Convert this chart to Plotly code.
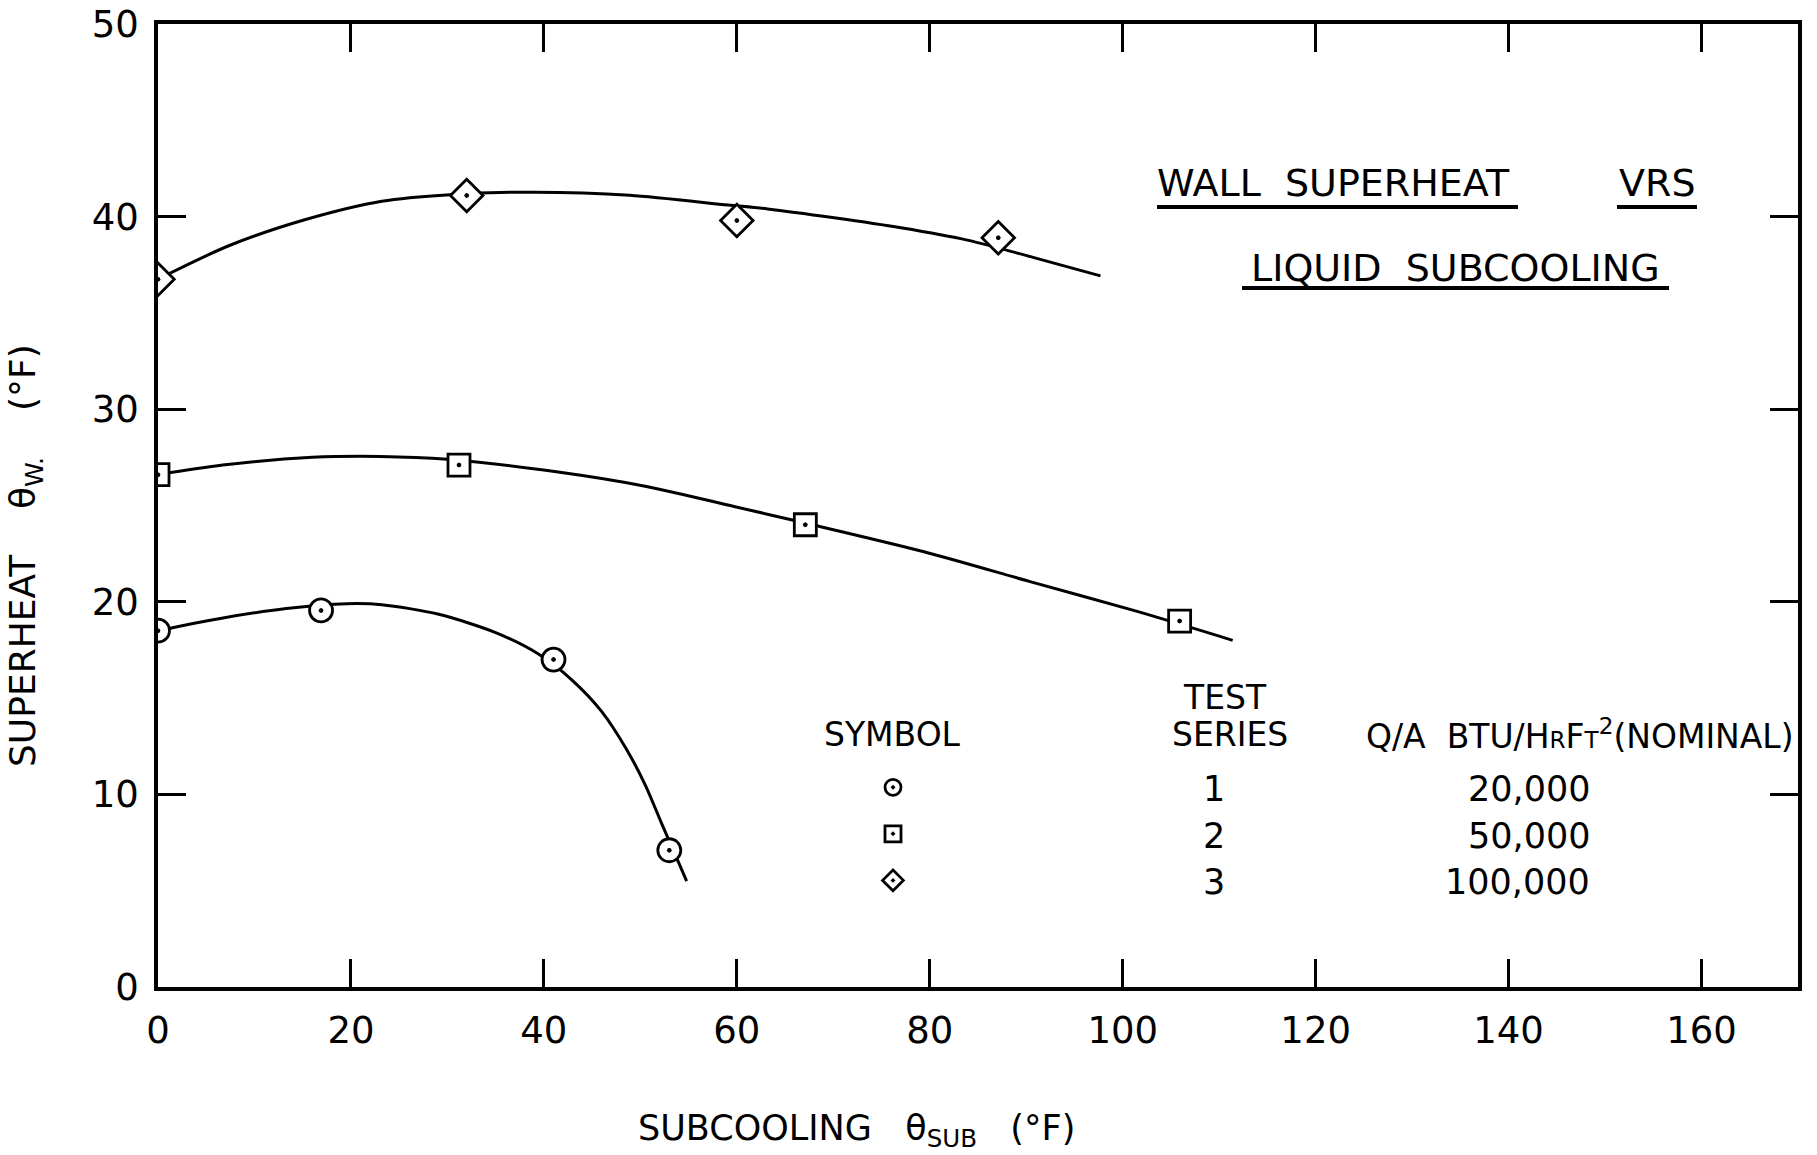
import plotly.graph_objects as go

# ---- data ----
# measured points (subcooling °F, wall superheat °F)
s1_x = [0, 16.9, 41.0, 53.0]
s1_y = [18.5, 19.55, 17.0, 7.1]
s2_x = [0, 31.2, 67.1, 105.9]
s2_y = [26.6, 27.1, 24.0, 19.0]
s3_x = [0, 32.0, 60.0, 87.1]
s3_y = [36.75, 41.1, 39.8, 38.9]

# hand-drawn fitted curves
c1_x = [0, 1.5, 6.6, 13.3, 19.6, 23.2, 29.1, 35.0, 39.4, 43.0, 46.0, 48.5, 50.5, 52.2, 53.5, 54.8]
c1_y = [18.45, 18.65, 19.15, 19.65, 19.9, 19.85, 19.35, 18.4, 17.3, 15.9, 14.3, 12.4, 10.5, 8.5, 7.0, 5.5]
c2_x = [0, 6.7, 16.0, 23.0, 30.0, 41.3, 50.5, 59.7, 67.0, 79.4, 90.4, 101.5, 111.4]
c2_y = [26.6, 27.1, 27.5, 27.55, 27.4, 26.75, 26.0, 24.95, 24.1, 22.6, 21.05, 19.5, 18.0]
c3_x = [0, 7.4, 15.3, 23.2, 30.3, 39.0, 48.9, 59.1, 63.2, 70.1, 77.0, 83.9, 90.8, 97.7]
c3_y = [36.75, 38.5, 39.85, 40.8, 41.14, 41.27, 41.11, 40.6, 40.4, 39.94, 39.42, 38.78, 37.87, 36.92]

series_no = ["1", "2", "3"]
flux = ["20,000", "50,000", "100,000"]
symbols = ["circle", "square", "diamond"]
marker_sizes = [23, 22, 25]

x_ticks = [0, 20, 40, 60, 80, 100, 120, 140, 160]
y_ticks = [0, 10, 20, 30, 40, 50]

FONT = "DejaVu Sans"
W, H = 1817, 1155
L, R, T, B = 158, 19, 24, 168
PW, PH = W - L - R, H - T - B


def px(ax):
    return (ax - L) / PW


def py(ay):
    return (H - B - ay) / PH


fig = go.Figure()

curves = [(c1_x, c1_y), (c2_x, c2_y), (c3_x, c3_y)]
for cx, cy in curves:
    fig.add_trace(go.Scatter(x=cx, y=cy, mode="lines", showlegend=False,
                             line=dict(color="black", width=3, shape="spline", smoothing=0.8),
                             hoverinfo="skip"))

pts = [(s1_x, s1_y), (s2_x, s2_y), (s3_x, s3_y)]
for (sx, sy), sym, ms in zip(pts, symbols, marker_sizes):
    fig.add_trace(go.Scatter(x=sx, y=sy, mode="markers", name=" ", showlegend=True,
                             marker=dict(symbol=sym + "-dot", size=ms, color="white",
                                         line=dict(color="black", width=2.8))))
# centre dots of the symbols
for sx, sy in pts:
    fig.add_trace(go.Scatter(x=sx, y=sy, mode="markers", showlegend=False, hoverinfo="skip",
                             marker=dict(symbol="circle", size=4.5, color="black",
                                         line=dict(width=0))))

axis_common = dict(showline=True, linewidth=3.5, linecolor="black", mirror="ticks",
                   ticks="inside", ticklen=28, tickwidth=3, tickcolor="black",
                   showgrid=False, zeroline=False, automargin=False,
                   ticklabeloverflow="allow",
                   tickfont=dict(family=FONT, size=37, color="black"))

fig.update_xaxes(range=[0, 170], tickvals=x_ticks, ticktext=[str(v) for v in x_ticks],
                 ticklabelstandoff=8, **axis_common)
fig.update_yaxes(range=[0, 50], tickvals=y_ticks, ticktext=[str(v) for v in y_ticks],
                 ticklabelstandoff=8, **axis_common)

ann = []


def add_text(text, ax, ay, size, xanchor="center", angle=0):
    ann.append(dict(text=text, x=px(ax), y=py(ay), xref="paper", yref="paper",
                    xanchor=xanchor, yanchor="middle", showarrow=False, textangle=angle,
                    font=dict(family=FONT, size=size, color="black")))


add_text("WALL  SUPERHEAT", 1333, 183, 38)
add_text("VRS", 1657, 183, 38)
add_text("LIQUID  SUBCOOLING", 1455, 268, 38)

add_text("SYMBOL", 892, 734, 33)
add_text("TEST", 1225, 697, 33)
add_text("SERIES", 1230, 734, 33)
add_text("Q/A  BTU/H<span style='font-size:70%'>R</span>F<span style='font-size:70%'>T</span>"
         "<sup>2</sup>(NOMINAL)", 1796, 734, 33, xanchor="right")
for i, (sn, fl) in enumerate(zip(series_no, flux)):
    yy = 789 + 46.5 * i
    add_text(sn, 1214, yy, 35)
    add_text(fl, 1592, yy, 35, xanchor="right")

add_text("SUBCOOLING   θ<sub>SUB</sub>   (°F)", 856, 1130, 35)
add_text("SUPERHEAT    θ<sub>W.</sub>    (°F)", 25, 556, 36, angle=-90)

shapes = []
for x0, x1, yy in [(1157, 1518, 207), (1617, 1697, 207), (1242, 1669, 288)]:
    shapes.append(dict(type="line", xref="paper", yref="paper", x0=px(x0), x1=px(x1),
                       y0=py(yy), y1=py(yy), line=dict(color="black", width=4)))

fig.update_layout(
    width=W, height=H,
    margin=dict(l=L, r=R, t=T, b=B, autoexpand=False),
    paper_bgcolor="white", plot_bgcolor="white",
    annotations=ann, shapes=shapes,
    legend=dict(x=px(873), y=py(759), xanchor="left", yanchor="top",
                bgcolor="rgba(0,0,0,0)", borderwidth=0, itemwidth=30,
                font=dict(family=FONT, size=33.5, color="black"), traceorder="normal"),
)

fig.write_html("out.html", config={"displayModeBar": False},
               post_script="document.body.style.margin='0';document.body.style.overflow='hidden';")
